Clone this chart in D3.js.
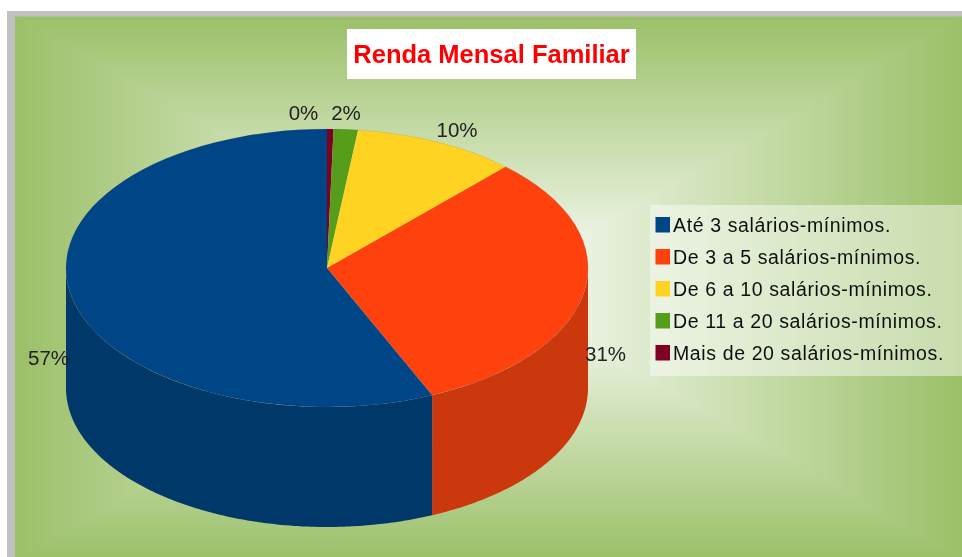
<!DOCTYPE html>
<html><head><meta charset="utf-8">
<script src="https://cdn.jsdelivr.net/npm/d3@7"></script>
<style>html,body{margin:0;padding:0;background:#fff;overflow:hidden}svg{display:block}text{font-family:"Liberation Sans",Arial,sans-serif}</style>
</head><body><svg id="c" width="962" height="557"></svg>
<script>
// data, clockwise from 12 o'clock
const categories = ["Mais de 20 salários-mínimos.","De 11 a 20 salários-mínimos.","De 6 a 10 salários-mínimos.","De 3 a 5 salários-mínimos.","Até 3 salários-mínimos."];
const values = [0.4,1.5,10.1,31.4,56.6];
const topColors = ["#7e0021","#579d1c","#ffd320","#ff420e","#004586"];
const wallColors = ["#650019","#467e16","#ccaa1a","#cc370c","#00386b"];
const legendOrder = [4,3,2,1,0];
const title = "Renda Mensal Familiar";

// layout
const W=962,H=557,cx=327,cy=268,rx=261,ry=139,depth=120;
const labelAt = [[303.5,113],[346,113],[457,130],[605.5,354],[48.5,358]];
const svg=d3.select("#c");
const root=svg.append("g").attr("filter","url(#soft)");
const defs=svg.append("defs");
defs.append("filter").attr("id","soft").attr("x",0).attr("y",0).attr("width","100%").attr("height","100%")
  .append("feGaussianBlur").attr("stdDeviation",0.7);

// frame and rectangular gradient
root.append("rect").attr("x",7).attr("y",11).attr("width",W).attr("height",H).attr("fill","#c0c0c0");
const bgx=15,bgy=16.5,bgw=W-15+3,bgh=H-16.5+3,steps=d3.range(0,160);
const shade=d3.scaleLinear().domain([0,159]).range([0,1]);
const col=d3.interpolateRgb("#9bc068","#ffffff");
root.append("g").selectAll("rect").data(steps).join("rect")
  .attr("x",d=>bgx+shade(d)*bgw/2).attr("y",d=>bgy+shade(d)*bgh/2)
  .attr("width",d=>bgw*(1-shade(d))).attr("height",d=>bgh*(1-shade(d)))
  .attr("fill",d=>col(shade(d)));

// title
root.append("rect").attr("x",347).attr("y",29).attr("width",289).attr("height",50).attr("fill","#fff");
root.append("text").attr("x",491.5).attr("y",63).attr("text-anchor","middle")
  .attr("font-size",25.5).attr("font-weight","bold").attr("fill","#ff0000").text(title);

// pie
const pie=d3.pie().sort(null).value(d=>d)(values);
const px=a=>cx+rx*Math.sin(a), py=a=>cy-ry*Math.cos(a);
const wall=d3.area().x(px).y0(py).y1(a=>py(a)+depth);
const g=root.append("g");
pie.forEach((p,i)=>{
  const a0=Math.max(p.startAngle,Math.PI/2),a1=Math.min(p.endAngle,3*Math.PI/2);
  if(a1<=a0)return;
  const n=Math.ceil((a1-a0)/0.01);
  const pts=d3.range(n+1).map(k=>a0+(a1-a0)*k/n);
  g.append("path").attr("d",wall(pts)).attr("fill",wallColors[i]);
});
const arc=d3.arc().innerRadius(0).outerRadius(rx);
g.append("g").attr("transform",`translate(${cx},${cy}) scale(1,${ry/rx})`)
  .selectAll("path").data(pie).join("path").attr("d",arc).attr("fill",(d,i)=>topColors[i]);
g.append("ellipse").attr("cx",cx).attr("cy",cy).attr("rx",rx).attr("ry",ry).attr("fill","none")
  .attr("stroke","#555").attr("stroke-opacity",0.2).attr("stroke-width",0.7);

// percentage labels
const fmt=d3.format(".0f");
root.append("g").selectAll("text").data(values).join("text")
  .attr("x",(d,i)=>labelAt[i][0]).attr("y",(d,i)=>labelAt[i][1]+7)
  .attr("text-anchor","middle").attr("font-size",20.5).attr("fill","#222")
  .text(d=>fmt(d)+"%");

// legend
const lg=root.append("g");
lg.append("rect").attr("x",650).attr("y",205).attr("width",312).attr("height",171).attr("fill","#fff").attr("fill-opacity",0.45);
const rowY=d3.scalePoint().domain(legendOrder).range([225,353]);
const rows=lg.selectAll("g").data(legendOrder).join("g").attr("transform",d=>`translate(0,${rowY(d)})`);
rows.append("rect").attr("x",655.5).attr("y",-8).attr("width",14.5).attr("height",15.5).attr("fill",d=>topColors[d]);
rows.append("text").attr("x",673).attr("y",7).attr("font-size",19.5).attr("letter-spacing",0.62).attr("fill","#111").text(d=>categories[d]);
</script></body></html>
